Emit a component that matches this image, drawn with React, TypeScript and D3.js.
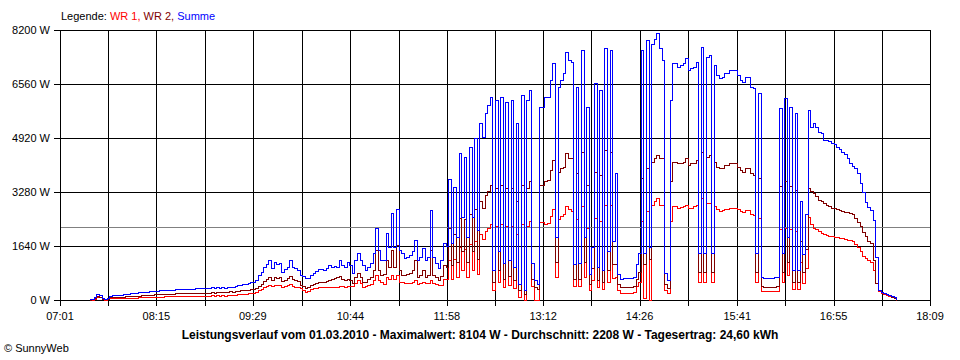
import * as d3 from "d3";
import React from "react";

// Tick labels as printed by SunnyWeb
const xTickLabels = ["07:01", "08:15", "09:29", "10:44", "11:58", "13:12", "14:26", "15:41", "16:55", "18:09"];
const yTicks = [0, 1640, 3280, 4920, 6560, 8200];

// Sample times: first sample 07:23, one value every 2 minutes
const startTime = "07:23";
const stepMinutes = 2;
const averageW = 2208;

const titleText =
  "Leistungsverlauf vom 01.03.2010 - Maximalwert: 8104 W - Durchschnitt: 2208 W - Tagesertrag: 24,60 kWh";

// WR 1 (W)
const wr1 = [
  10, 15, 40, 90, 80, 20, 15, 20, 50, 50,
  50, 50, 55, 60, 60, 60, 70, 70, 70, 80,
  80, 90, 90, 90, 100, 100, 100, 100, 100, 110,
  110, 110, 110, 120, 120, 120, 120, 120, 125, 125,
  125, 125, 130, 130, 130, 130, 130, 140, 130, 140,
  130, 150, 130, 140, 150, 140, 160, 170, 170, 180,
  190, 200, 210, 220, 250, 310, 340, 400, 430, 460,
  430, 470, 450, 460, 400, 430, 455, 480, 420, 410,
  390, 355, 300, 250, 260, 330, 355, 370, 390, 400,
  390, 400, 405, 405, 405, 405, 440, 420, 410, 440,
  430, 420, 520, 610, 520, 405, 420, 460, 500, 600,
  760, 600, 555, 500, 700, 650, 760, 650, 760, 555,
  555, 520, 520, 505, 560, 610, 500, 520, 560, 505,
  520, 610, 520, 480, 455, 470, 650, 640, 1200, 650,
  1250, 700, 1600, 900, 1550, 700, 1700, 900, 1800, 780,
  2000, 1850, 2100, 2200, 2300, 300, 2250, 550, 2300, 400,
  2250, 450, 2250, 350, 2000, 100, 2300, 0, 2250, 2400,
  420, 0, 0, 2380, 2380, 2300, 2350, 2550, 2750, 700,
  2450, 2550, 2600, 2850, 2750, 2700, 420, 2450, 420, 2850,
  700, 2200, 300, 600, 2500, 380, 2400, 340, 2900, 560,
  2900, 680, 700, 300, 220, 220, 220, 220, 220, 250,
  420, 560, 2400, 50, 2700, 0, 2900, 3000, 3100, 2900,
  2900, 300, 200, 2400, 2850, 2850, 2800, 2820, 2850, 2900,
  2800, 2800, 2850, 2900, 560, 3100, 560, 2950, 2950, 560,
  2850, 2750, 2700, 2720, 2750, 2760, 2800, 2800, 2800, 2750,
  2700, 2680, 2720, 2720, 2600, 2580, 560, 2500, 280, 260,
  260, 260, 260, 270, 280, 2150, 560, 2200, 750, 2150,
  340, 2100, 340, 1150, 520, 980, 2530, 2300, 2190, 2150,
  2100, 2050, 2000, 1980, 1950, 1930, 1920, 1900, 1880, 1870,
  1850, 1830, 1820, 1780, 1700, 1620, 1500, 1350, 1280, 1200,
  1165, 910, 510, 260, 220, 180, 150, 120, 90, 50, 10,
];

// WR 2 (W)
const wr2 = [
  15, 25, 60, 110, 100, 40, 25, 30, 80, 90,
  90, 90, 95, 100, 110, 110, 120, 120, 130, 130,
  140, 150, 150, 160, 160, 170, 170, 180, 180, 180,
  190, 190, 190, 200, 200, 200, 200, 200, 210, 210,
  210, 210, 210, 210, 200, 210, 220, 230, 220, 240,
  230, 250, 230, 250, 260, 240, 260, 280, 290, 290,
  300, 310, 320, 330, 360, 440, 480, 580, 640, 700,
  620, 700, 680, 700, 580, 620, 660, 720, 640, 610,
  580, 455, 430, 355, 380, 455, 480, 505, 540, 560,
  560, 580, 600, 640, 680, 710, 720, 640, 610, 650,
  600, 505, 700, 810, 700, 555, 560, 650, 710, 900,
  1520, 910, 760, 800, 1215, 1000, 1520, 1000, 1670, 910,
  760, 760, 780, 810, 900, 1215, 710, 760, 900, 710,
  760, 1520, 760, 710, 610, 720, 1050, 1000, 2200, 1050,
  2000, 1150, 2500, 1500, 2450, 1150, 2600, 1500, 2750, 1250,
  3000, 2800, 3200, 3300, 3500, 550, 3400, 900, 3500, 650,
  3400, 730, 3400, 600, 3000, 300, 3500, 180, 3400, 3600,
  650, 400, 330, 3490, 3490, 3600, 3650, 3950, 4250, 1150,
  3900, 4000, 4050, 4450, 4300, 4300, 650, 3850, 650, 4500,
  1150, 3500, 480, 970, 3900, 600, 3800, 540, 4550, 900,
  4500, 1080, 1100, 480, 380, 380, 380, 380, 380, 420,
  650, 850, 3700, 1100, 4000, 1250, 4200, 4300, 4400, 4300,
  4300, 480, 360, 3600, 4200, 4200, 4150, 4150, 4200, 4300,
  4100, 4150, 4150, 4250, 850, 4500, 850, 4350, 4400, 850,
  4200, 4050, 4000, 4000, 4100, 4100, 4150, 4150, 4150, 4050,
  3950, 3900, 4000, 4000, 3850, 3800, 850, 3700, 420, 390,
  390, 390, 400, 410, 420, 3450, 850, 3600, 1150, 3450,
  540, 3350, 540, 1800, 840, 1550, 3390, 3300, 3240, 3150,
  3050, 3000, 2950, 2900, 2850, 2800, 2785, 2750, 2720, 2700,
  2680, 2660, 2640, 2600, 2500, 2380, 2250, 2080, 1950, 1800,
  1720, 1215, 510, 300, 230, 200, 170, 140, 100, 60, 10,
];

// Summe (W)
const summe = [
  30, 40, 100, 170, 160, 60, 40, 50, 130, 140,
  140, 140, 150, 170, 180, 190, 200, 200, 210, 230,
  240, 250, 250, 260, 260, 270, 280, 290, 290, 300,
  300, 310, 310, 320, 320, 330, 330, 330, 340, 340,
  340, 350, 350, 350, 350, 360, 360, 380, 360, 390,
  370, 400, 360, 390, 410, 380, 430, 460, 470, 480,
  500, 520, 540, 560, 620, 760, 860, 1000, 1100, 1220,
  960, 1150, 1080, 1110, 860, 950, 1010, 1215, 1000, 960,
  910, 760, 720, 680, 660, 760, 810, 880, 930, 950,
  920, 960, 1060, 1000, 1020, 1010, 1215, 1060, 1010, 1165,
  1050, 810, 1215, 1420, 1215, 1060, 910, 1000, 1110, 1420,
  2175, 1520, 1215, 1215, 2025, 1620, 2630, 1620, 2750, 1520,
  1420, 1265, 1315, 1365, 1500, 1820, 1215, 1300, 1570, 1215,
  1300, 2730, 1315, 1110, 960, 1200, 1720, 1650, 3690, 1720,
  3440, 1920, 4450, 2530, 4350, 1920, 4655, 2530, 4910, 2125,
  5365, 4960, 5665, 5920, 6170, 910, 6070, 1500, 6170, 1110,
  6020, 1215, 6070, 1000, 5365, 500, 6225, 300, 6070, 6375,
  1110, 600, 500, 5870, 5870, 6170, 6170, 6680, 7185, 1920,
  6475, 6680, 6880, 7540, 7285, 7235, 1100, 6475, 1110, 7590,
  1920, 5870, 800, 1620, 6580, 1000, 6375, 900, 7640, 1500,
  7590, 1800, 3850, 800, 650, 660, 660, 660, 660, 710,
  1100, 1420, 7590, 1420, 7890, 1620, 7790, 7940, 8100, 7640,
  7285, 810, 600, 6070, 7185, 7185, 7085, 7135, 7185, 7335,
  6980, 7035, 7085, 7235, 1420, 7690, 1420, 7385, 7440, 1420,
  7135, 6830, 6730, 6780, 6880, 6900, 6980, 6980, 7000, 6830,
  6680, 6630, 6780, 6780, 6475, 6425, 1420, 6275, 710, 660,
  660, 660, 670, 690, 710, 5820, 1420, 6120, 1920, 5870,
  910, 5670, 910, 3000, 1400, 2600, 5770, 5260, 5365, 5260,
  5110, 5060, 4860, 4860, 4840, 4760, 4740, 4655, 4575, 4500,
  4430, 4300, 4170, 4070, 4000, 3845, 3560, 3290, 2985, 2835,
  2730, 2430, 1300, 300, 250, 220, 180, 150, 120, 80, 20,
];

const series = [
  { name: "WR 1", values: wr1, color: "#ff0000" },
  { name: "WR 2", values: wr2, color: "#800000" },
  { name: "Summe", values: summe, color: "#0000ff" },
];

const toMinutes = (s: string) => {
  const [h, m] = s.split(":").map(Number);
  return h * 60 + m;
};

const font = "'Liberation Sans', Arial, sans-serif";

export default function App() {
  const width = 960;
  const height = 360;
  const plot = { left: 60, right: 930, top: 30, bottom: 300 };

  const labelMinutes = xTickLabels.map(toMinutes);
  const x = d3
    .scaleLinear()
    .domain([labelMinutes[0], labelMinutes[labelMinutes.length - 1]])
    .range([plot.left, plot.right]);
  const y = d3
    .scaleLinear()
    .domain([0, yTicks[yTicks.length - 1]])
    .range([plot.bottom, plot.top]);

  // grid every label plus one halfway between
  const gridMinutes: number[] = [];
  labelMinutes.forEach((m, i) => {
    gridMinutes.push(m);
    if (i < labelMinutes.length - 1) gridMinutes.push((m + labelMinutes[i + 1]) / 2);
  });

  const t0 = toMinutes(startTime);
  const line = d3
    .line<number>()
    .x((_, i) => Math.round(x(t0 + i * stepMinutes)))
    .y((d) => Math.round(y(d)))
    .curve(d3.curveStepAfter);

  const px = (v: number) => Math.round(v) + 0.5;

  return (
    <svg
      width={width}
      height={height}
      style={{ position: "absolute", left: 0, top: 0, background: "#fff" }}
      fontFamily={font}
    >
      <rect width={width} height={height} fill="#fff" />

      {/* legend */}
      <text x={61} y={20} fontSize={11}>
        <tspan fill="#000">Legende: </tspan>
        {series.map((s, i) => (
          <tspan key={s.name} fill={s.color}>
            {s.name}
            {i < series.length - 1 ? ", " : ""}
          </tspan>
        ))}
      </text>

      {/* grid */}
      <g shapeRendering="crispEdges" stroke="#000" strokeWidth={1}>
        {yTicks.map((v) => (
          <line key={"h" + v} x1={plot.left - 6} x2={plot.right} y1={px(y(v))} y2={px(y(v))} />
        ))}
        {gridMinutes.map((m) => (
          <line key={"v" + m} x1={px(x(m))} x2={px(x(m))} y1={plot.top} y2={plot.bottom + 6} />
        ))}
      </g>

      {/* average */}
      <line
        x1={plot.left + 1}
        x2={plot.right}
        y1={px(y(averageW))}
        y2={px(y(averageW))}
        stroke="#808080"
        strokeWidth={1}
        shapeRendering="crispEdges"
      />

      {/* series */}
      <g transform="translate(0.5,0.5)" shapeRendering="crispEdges">
        {series.map((s) => (
          <path key={s.name} d={line(s.values) || ""} fill="none" stroke={s.color} strokeWidth={1} />
        ))}
      </g>

      {/* axis labels */}
      <g fontSize={11} fill="#000">
        {yTicks.map((v) => (
          <text key={"yl" + v} x={50} y={y(v) + 4} textAnchor="end">
            {v} W
          </text>
        ))}
        {xTickLabels.map((l, i) => (
          <text key={"xl" + l} x={x(labelMinutes[i])} y={320} textAnchor="middle">
            {l}
          </text>
        ))}
      </g>

      <text x={480} y={339} textAnchor="middle" fontSize={12} fontWeight="bold">
        {titleText}
      </text>
      <text x={4} y={352} fontSize={11}>
        © SunnyWeb
      </text>
    </svg>
  );
}
